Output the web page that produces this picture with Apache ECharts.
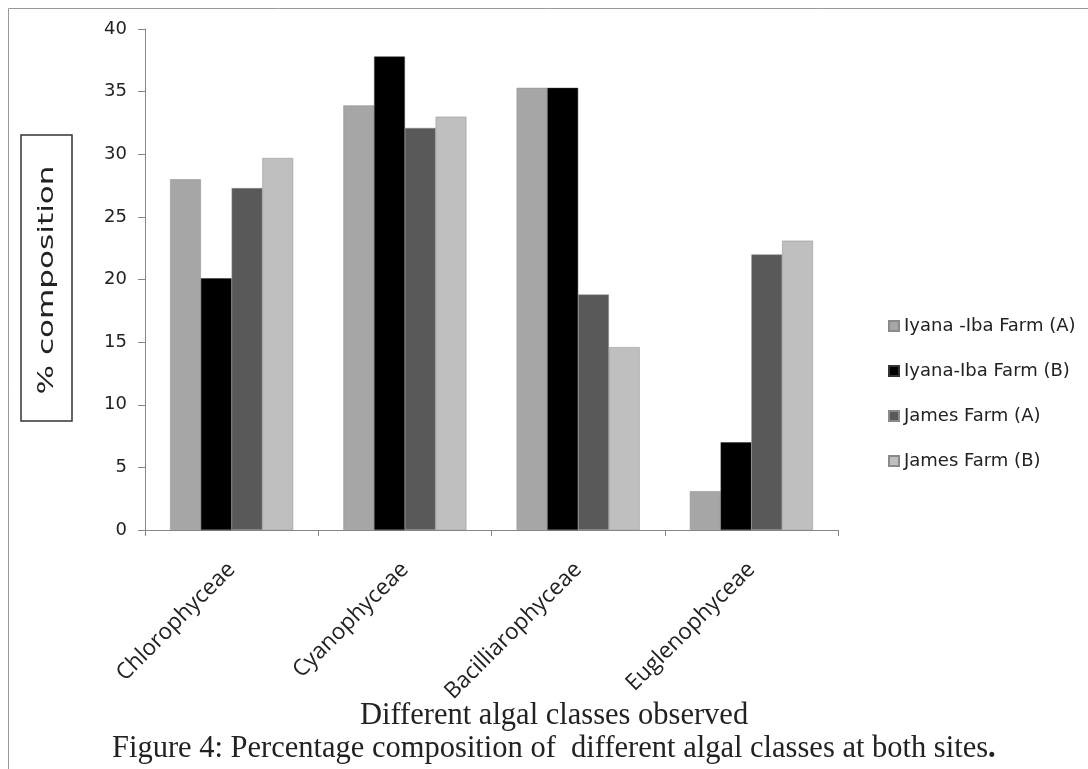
<!DOCTYPE html>
<html><head><meta charset="utf-8">
<script src="https://cdn.jsdelivr.net/npm/echarts@6/dist/echarts.min.js"></script>
<style>html,body{margin:0;padding:0;background:#fff}#c{width:1088px;height:769px}</style>
</head><body><div id="c"></div>
<script>
const categories = ['Chlorophyceae', 'Cyanophyceae', 'Bacilliarophyceae', 'Euglenophyceae'];
const seriesNames = ['Iyana -Iba Farm (A)', 'Iyana-Iba Farm (B)', 'James Farm (A)', 'James Farm (B)'];
const iyanaA = [28.0, 33.9, 35.3, 3.1];
const iyanaB = [20.1, 37.8, 35.3, 7.0];
const jamesA = [27.3, 32.1, 18.8, 22.0];
const jamesB = [29.7, 33.0, 14.6, 23.1];
const yTicks = [0, 5, 10, 15, 20, 25, 30, 35, 40];
const colors = ['#a6a6a6', '#000000', '#595959', '#bfbfbf'];
const values = [iyanaA, iyanaB, jamesA, jamesB];
const yTitle = '% composition';
const xTitle = 'Different algal classes observed';
const caption = 'Figure 4: Percentage composition of  different algal classes at both sites';

function textWidth(text, font) {
  const ctx = document.createElement('canvas').getContext('2d');
  ctx.font = font;
  return ctx.measureText(text).width;
}
function fitSize(text, family, width) {
  return 100 * width / textWidth(text, '100px ' + family);
}
const serif = '"Liberation Serif"';
const capSize = fitSize(caption + '.', serif, 885);
const titleSize = fitSize(xTitle, serif, 388);
const xLabelSize = Math.round(fitSize(categories[0], '"Open Sans"', 158) * 2) / 2;
const yTitleScale = 229 / textWidth(yTitle, '22px "DejaVu Sans"');

const legendFont = 18;
const legendTextW = textWidth(seriesNames[0], legendFont + 'px "DejaVu Sans"');

const chart = echarts.init(document.getElementById('c'), null, {renderer: 'canvas'});
chart.setOption({
  animation: false,
  backgroundColor: '#fff',
  grid: {left: 145, right: 250, top: 29, bottom: 239, containLabel: false},
  legend: {
    orient: 'vertical', left: Math.round(1070 - legendTextW - 15), top: 312, itemWidth: 10, itemHeight: 10, itemGap: 27,
    icon: 'rect',
    textStyle: {fontFamily: 'DejaVu Sans', fontSize: legendFont, color: '#222'},
    data: seriesNames
  },
  xAxis: {
    type: 'category', data: categories,
    axisLine: {lineStyle: {color: '#868686', width: 1}},
    axisTick: {show: true, length: 6, lineStyle: {color: '#868686'}},
    axisLabel: {rotate: 45, fontFamily: 'Open Sans', fontSize: xLabelSize, color: '#222', margin: 36, interval: 0}
  },
  yAxis: {
    type: 'value', min: yTicks[0], max: yTicks[yTicks.length - 1], interval: 5,
    axisLine: {show: true, lineStyle: {color: '#868686', width: 1}},
    axisTick: {show: true, length: 7, lineStyle: {color: '#868686'}},
    splitLine: {show: false},
    axisLabel: {fontFamily: 'DejaVu Sans', fontSize: 18, color: '#222', margin: 18}
  },
  series: seriesNames.map((n, i) => ({
    name: n, type: 'bar', data: values[i],
    barGap: '0%', barCategoryGap: '29%',
    itemStyle: {color: colors[i], borderColor: i === 1 ? '#333' : '#8a8a8a', borderWidth: 0.5}
  })),
  graphic: [
    {type: 'rect', shape: {x: 8.5, y: 8.5, width: 1200, height: 900}, style: {fill: 'none', stroke: '#999', lineWidth: 1}, z: -1},
    {type: 'rect', shape: {x: 21, y: 135, width: 51, height: 286}, style: {fill: '#fff', stroke: '#333', lineWidth: 1.5}},
    {type: 'text', x: 47, y: 280, rotation: Math.PI / 2, scaleX: yTitleScale, style: {text: yTitle, font: '22px "DejaVu Sans"', fill: '#222', textAlign: 'center', textVerticalAlign: 'middle'}},
    {type: 'text', x: 360, y: 716, style: {text: xTitle, font: titleSize.toFixed(1) + 'px ' + serif, fill: '#222', textAlign: 'left', textVerticalAlign: 'middle'}},
    {type: 'text', x: 112, y: 749, style: {
      text: '{n|' + caption + '}{b|.}',
      rich: {n: {font: capSize.toFixed(1) + 'px ' + serif, fill: '#222'}, b: {font: 'bold ' + capSize.toFixed(1) + 'px ' + serif, fill: '#222'}},
      textAlign: 'left', textVerticalAlign: 'middle'}}
  ]
});
</script></body></html>
